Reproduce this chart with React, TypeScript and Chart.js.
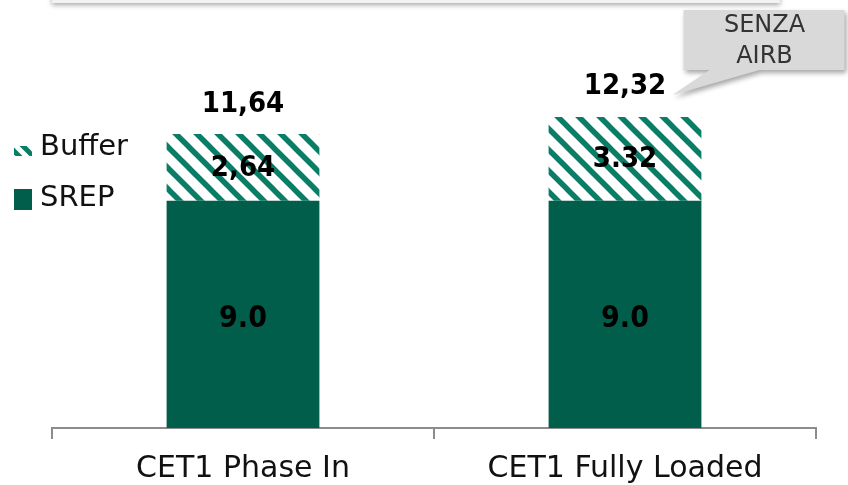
import React, { useEffect, useRef } from "react";
import { Chart, registerables } from "chart.js";

Chart.register(...registerables);

const categories = ["CET1 Phase In", "CET1 Fully Loaded"];
const srepValues = [9.0, 9.0];
const bufferValues = [2.64, 3.32];
const srepLabels = ["9.0", "9.0"];
const bufferLabels = ["2,64", "3.32"];
const totalLabels = ["11,64", "12,32"];
const calloutLines = ["SENZA", "AIRB"];

const DARK = "#005e4b";
const STRIPE = "#0a7d66";
const FONT = "'DejaVu Sans', sans-serif";
const BOLDFONT = "'DejaVu Sans Condensed', 'DejaVu Sans', sans-serif";

function makePattern(): CanvasPattern | string {
  const size = 21;
  const c = document.createElement("canvas");
  c.width = size;
  c.height = size;
  const g = c.getContext("2d");
  if (!g) return STRIPE;
  g.fillStyle = "#ffffff";
  g.fillRect(0, 0, size, size);
  g.strokeStyle = STRIPE;
  g.lineWidth = 5.5;
  for (let k = -1; k <= 1; k++) {
    g.beginPath();
    g.moveTo(k * size - 3, -3);
    g.lineTo(k * size + size + 3, size + 3);
    g.stroke();
  }
  const p = g.createPattern(c, "repeat");
  return p || STRIPE;
}

const overlayPlugin = {
  id: "overlay",
  afterDatasetsDraw(chart: any) {
    const ctx = chart.ctx;
    const m0 = chart.getDatasetMeta(0);
    const m1 = chart.getDatasetMeta(1);
    ctx.save();
    ctx.fillStyle = "#000";
    ctx.textAlign = "center";
    ctx.textBaseline = "middle";
    ctx.font = `bold 30px ${BOLDFONT}`;
    m0.data.forEach((bar: any, i: number) => {
      ctx.fillText(srepLabels[i], bar.x, (bar.y + bar.base) / 2 + 5);
    });
    ctx.font = `bold 29px ${BOLDFONT}`;
    m1.data.forEach((bar: any, i: number) => {
      ctx.fillText(bufferLabels[i], bar.x, (bar.y + bar.base) / 2 + 1);
      ctx.fillText(totalLabels[i], bar.x, bar.y - 30);
    });
    ctx.restore();
  },
  afterDraw(chart: any) {
    const ctx = chart.ctx;
    const m1 = chart.getDatasetMeta(1);
    ctx.save();
    // top banner (partial box)
    ctx.shadowColor = "rgba(0,0,0,0.35)";
    ctx.shadowBlur = 5;
    ctx.shadowOffsetY = 2;
    ctx.fillStyle = "#f2f2f2";
    ctx.fillRect(52, -20, 728, 23);
    // callout
    const bar = m1.data[1];
    const bx = bar.x + 58.5;
    const by = 10;
    const bw = 161;
    const bh = 60;
    ctx.shadowOffsetX = 2;
    ctx.shadowOffsetY = 3;
    ctx.fillStyle = "#d9d9d9";
    ctx.beginPath();
    ctx.moveTo(bx, by);
    ctx.lineTo(bx + bw, by);
    ctx.lineTo(bx + bw, by + bh);
    ctx.lineTo(bx + 76, by + bh);
    ctx.lineTo(bar.x + 47.5, bar.y - 22);
    ctx.lineTo(bx + 26, by + bh);
    ctx.lineTo(bx, by + bh);
    ctx.closePath();
    ctx.fill();
    ctx.shadowColor = "transparent";
    ctx.fillStyle = "#333";
    ctx.font = `24px ${FONT}`;
    ctx.textAlign = "center";
    ctx.textBaseline = "middle";
    ctx.fillText(calloutLines[0], bx + 81, by + 16);
    ctx.fillText(calloutLines[1], bx + 81, by + 47);
    // legend
    const ds = chart.data.datasets;
    ctx.textAlign = "left";
    ctx.font = `29px ${FONT}`;
    const yb = 147;
    ctx.save();
    ctx.beginPath();
    ctx.rect(14, yb - 1, 18, 10);
    ctx.clip();
    ctx.strokeStyle = STRIPE;
    ctx.lineWidth = 5;
    ctx.beginPath();
    ctx.moveTo(12, yb + 2);
    ctx.lineTo(22, yb + 12);
    ctx.stroke();
    ctx.beginPath();
    ctx.moveTo(21, yb - 3);
    ctx.lineTo(34, yb + 10);
    ctx.stroke();
    ctx.restore();
    ctx.fillStyle = "#111";
    ctx.fillText(ds[1].label, 40, yb);
    const ys = 199;
    ctx.fillStyle = ds[0].backgroundColor;
    ctx.fillRect(14, ys - 10, 18, 21);
    ctx.fillStyle = "#111";
    ctx.fillText(ds[0].label, 40, ys - 1);
    ctx.restore();
  },
};

export default function App() {
  const ref = useRef<HTMLCanvasElement | null>(null);
  useEffect(() => {
    if (!ref.current) return;
    const pattern = makePattern();
    const chart = new Chart(ref.current, {
      type: "bar",
      data: {
        labels: categories,
        datasets: [
          { label: "SREP", data: srepValues, backgroundColor: DARK, barPercentage: 0.4, categoryPercentage: 1 },
          { label: "Buffer", data: bufferValues, backgroundColor: pattern as any, barPercentage: 0.4, categoryPercentage: 1 },
        ],
      },
      options: {
        animation: false,
        responsive: false,
        maintainAspectRatio: false,
        layout: { padding: { left: 52, right: 32, top: 24, bottom: 2 } },
        plugins: { legend: { display: false }, tooltip: { enabled: false } },
        scales: {
          x: {
            stacked: true,
            afterFit: (scale: any) => {
              scale.height = 55;
            },
            grid: { display: true, drawOnChartArea: false, drawTicks: true, tickLength: 11, color: "#8c8c8c", offset: true, lineWidth: 2 },
            border: { display: true, color: "#8c8c8c", width: 2 },
            ticks: { color: "#111", font: { size: 30, family: FONT, lineHeight: 1 }, padding: 15 },
          },
          y: { stacked: true, display: false, min: 0, max: 16 },
        },
      },
      plugins: [overlayPlugin],
    });
    return () => chart.destroy();
  }, []);
  return (
    <div style={{ position: "absolute", left: 0, top: 0, width: 848, height: 485 }}>
      <canvas ref={ref} width={848} height={485} style={{ width: 848, height: 485 }} />
    </div>
  );
}
